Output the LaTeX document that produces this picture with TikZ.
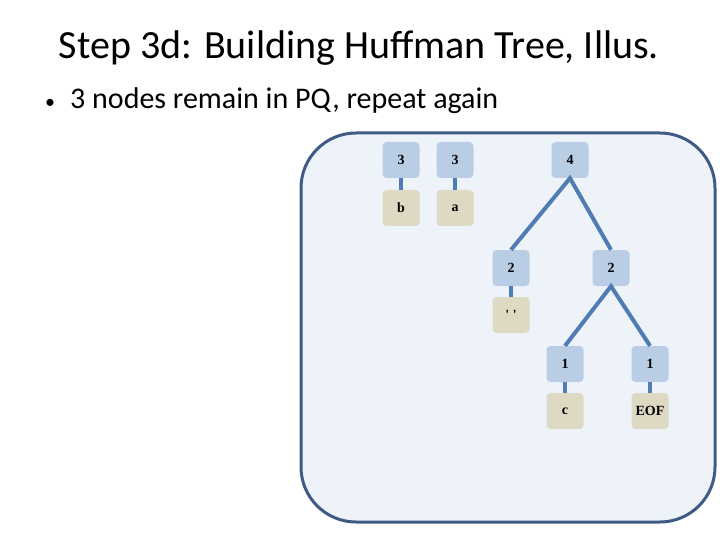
\documentclass[tikz,border=0pt]{standalone}
\usepackage{fontspec}
\setmainfont{Carlito}
\newfontfamily\boxfont{Liberation Serif}
\definecolor{panelfill}{HTML}{EEF2F9}
\definecolor{paneldraw}{HTML}{3F5A85}
\definecolor{nodeblue}{HTML}{B9CDE5}
\definecolor{leafbeige}{HTML}{DDD9C3}
\definecolor{edgeblue}{HTML}{4F7DB3}
\tikzset{
  treenode/.style={fill=nodeblue, rounded corners=4pt, minimum width=37pt, minimum height=36pt, inner sep=0pt, font=\boxfont\bfseries\fontsize{14}{14}\selectfont},
  leafnode/.style={treenode, fill=leafbeige},
  edge/.style={draw=edgeblue, line width=4pt},
}
\begin{document}
\begin{tikzpicture}[x=1pt,y=-1pt]
\useasboundingbox (0,0) rectangle (720,540);
\node[font=\fontsize{40}{44}\selectfont] (title) at (359,48) {Step 3d: Building Huffman Tree, Illus.};
\node[font=\fontsize{30}{34}\selectfont, anchor=base west, inner sep=0pt] (bullet) at (45,109) {\makebox[25pt][l]{\fontsize{20}{20}\selectfont •}3 nodes remain in PQ, repeat again};
\draw[fill=panelfill, draw=paneldraw, line width=3pt, rounded corners=55pt] (301,133) rectangle (715,522);
\node[treenode] (n3a) at (401,160) {3};
\node[treenode] (n3b) at (455,160) {3};
\node[leafnode] (lb) at (401,208) {b};
\node[leafnode] (la) at (455,208) {a};
\node[treenode] (n4) at (570,160) {4};
\node[treenode] (n2a) at (511,268) {2};
\node[leafnode] (lsp) at (511,315) {' '};
\node[treenode] (n2b) at (611,268) {2};
\node[treenode] (n1a) at (565,364) {1};
\node[treenode] (n1b) at (650,364) {1};
\node[leafnode] (lc) at (565,411) {c};
\node[leafnode] (leof) at (650,411) {EOF};
\draw[edge] (n3a.south) -- (lb.north);
\draw[edge] (n3b.south) -- (la.north);
\draw[edge] (n2a.south) -- (lsp.north);
\draw[edge] (n1a.south) -- (lc.north);
\draw[edge] (n1b.south) -- (leof.north);
\draw[edge, line join=miter] (n2a.north) -- (n4.south) -- (n2b.north);
\draw[edge, line join=miter] (n1a.north) -- (n2b.south) -- (n1b.north);
\end{tikzpicture}
\end{document}
